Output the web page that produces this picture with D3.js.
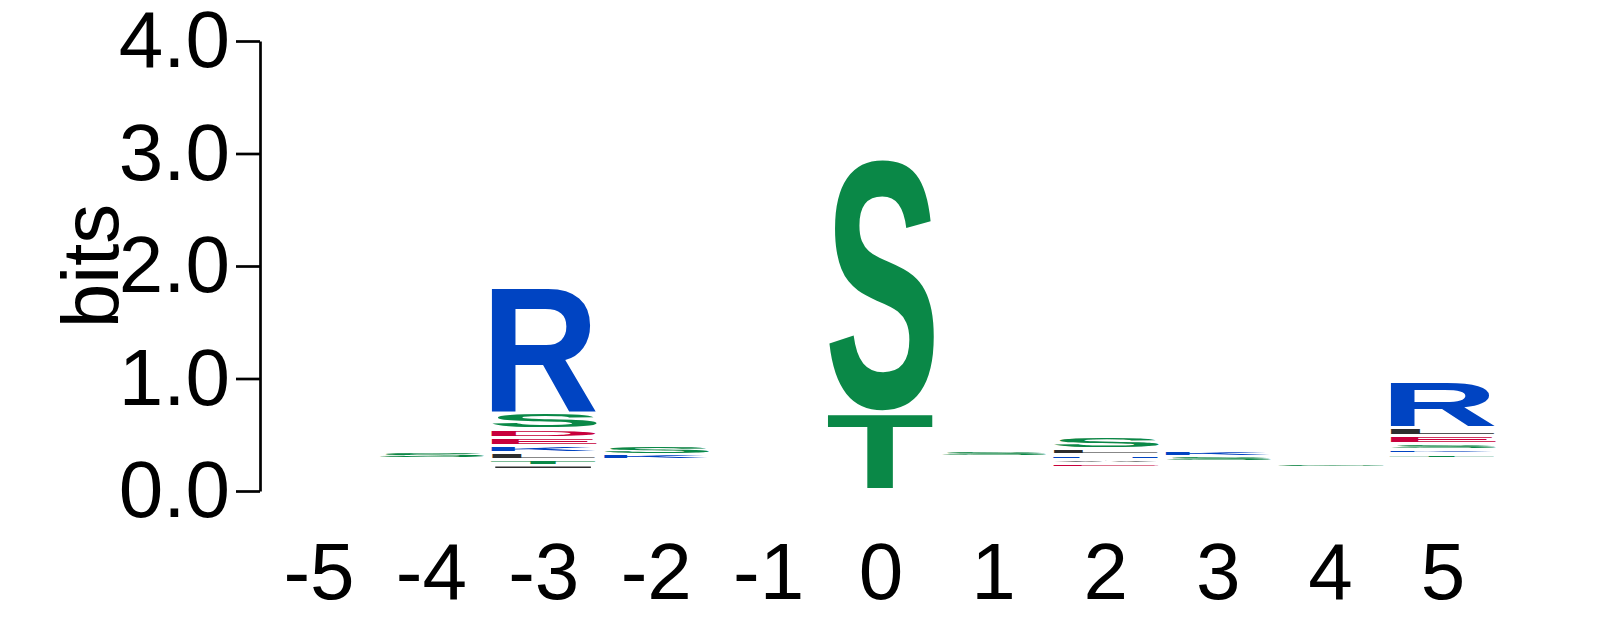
<!DOCTYPE html>
<html>
<head>
<meta charset="utf-8">
<script src="https://cdn.jsdelivr.net/npm/d3@7"></script>
<style>
  html, body { margin: 0; padding: 0; background: #fff; }
  svg text { font-family: "Liberation Sans", Arial, Helvetica, sans-serif; }
</style>
</head>
<body>
<svg id="logo" width="1597" height="625"></svg>
<script>
// sequence positions along the x axis
const positions = [-5, -4, -3, -2, -1, 0, 1, 2, 3, 4, 5];

// visible letters of each stack, top to bottom
const stackLetters = [
    [],
    ["S"],
    ["R", "S", "D", "E", "K", "L", "T", "I", "G"],
    ["S", "K"],
    [],
    ["S", "T"],
    ["S"],
    ["S", "L", "H", "A", "E"],
    ["K", "S"],
    ["G"],
    ["R", "L", "E", "S", "K", "T"]
];

// heights of those letters in bits
const stackBits = [
    [],
    [0.06],
    [1.117, 0.138, 0.076, 0.074, 0.062, 0.055, 0.053, 0.04, 0.031],
    [0.086, 0.044],
    [],
    [2.252, 0.688],
    [0.053],
    [0.106, 0.05, 0.042, 0.038, 0.037],
    [0.043, 0.044],
    [0.04],
    [0.413, 0.07, 0.07, 0.049, 0.042, 0.038]
];

// bits taken by letters too thin to see at the bottom of each stack
const hiddenBits = [0.25, 0.29, 0.16, 0.283, 0.25, 0.016, 0.307, 0.209, 0.265, 0.213, 0.293];

const yTicks = [0, 1, 2, 3, 4];

// chemistry colour scheme
const letterColor = {
    G: "#0a8847", S: "#0a8847", T: "#0a8847", Y: "#0a8847", C: "#0a8847",
    K: "#0044c2", R: "#0044c2", H: "#0044c2",
    D: "#c8003c", E: "#c8003c",
    N: "#8a2be2", Q: "#8a2be2",
    A: "#2d2d2d", V: "#2d2d2d", L: "#2d2d2d", I: "#2d2d2d", P: "#2d2d2d",
    W: "#2d2d2d", F: "#2d2d2d", M: "#2d2d2d"
};

const svg = d3.select("#logo");

const y = d3.scaleLinear().domain([0, 4]).range([491, 41]);
const x = d3.scaleBand().domain(positions).range([262.8, 1499.2]).padding(0);
const letterWidth = x.bandwidth() * 0.945;
const inset = 1.5;

// tight glyph bounds, measured once per letter on a canvas
const glyphFont = "bold 100px 'Liberation Sans', Arial, Helvetica, sans-serif";
const ctx = document.createElement("canvas").getContext("2d");
ctx.font = glyphFont;
const metrics = {};
function glyphBox(ch) {
    if (!metrics[ch]) {
        let m = ctx.measureText(ch);
        metrics[ch] = {
            left: m.actualBoundingBoxLeft,
            right: m.actualBoundingBoxRight,
            asc: m.actualBoundingBoxAscent,
            desc: m.actualBoundingBoxDescent
        };
    }
    return metrics[ch];
}

// y axis
const yAxis = d3.axisLeft(y)
    .tickValues(yTicks)
    .tickFormat(d3.format(".1f"))
    .tickSize(24)
    .tickSizeOuter(0)
    .tickPadding(6);

const gy = svg.append("g")
    .attr("transform", "translate(260,0)")
    .call(yAxis);
gy.select(".domain").attr("stroke", "#000").attr("stroke-width", 2.7);
gy.selectAll(".tick line").attr("stroke", "#000").attr("stroke-width", 2.7);
gy.selectAll(".tick text")
    .attr("fill", "#000")
    .style("font-size", "80px")
    .style("font-family", "'Liberation Sans', Arial, Helvetica, sans-serif");

// y label
svg.append("text")
    .attr("transform", "translate(118," + y(2) + ") rotate(-90)")
    .attr("text-anchor", "middle")
    .style("font-size", "80px")
    .attr("fill", "#000")
    .text("bits");

// x labels
svg.selectAll(".xlabel")
    .data(positions)
    .enter().append("text")
    .attr("class", "xlabel")
    .attr("x", d => x(d) + x.bandwidth() / 2)
    .attr("y", 598.6)
    .attr("text-anchor", "middle")
    .style("font-size", "80px")
    .attr("fill", "#000")
    .text(d => d);

// build letter boxes, stacked from the bottom up
let boxes = [];
positions.forEach((p, i) => {
    let base = hiddenBits[i];
    let ls = stackLetters[i];
    let bs = stackBits[i];
    for (let k = ls.length - 1; k >= 0; k--) {
        boxes.push({ pos: p, letter: ls[k], y0: base, y1: base + bs[k] });
        base += bs[k];
    }
});

const glyphs = svg.append("g");
boxes.forEach(b => {
    let top = y(b.y1) + inset;
    let h = y(b.y0) - y(b.y1) - 2 * inset;
    if (h <= 0) return;
    let g = glyphBox(b.letter);
    let x0 = x(b.pos) + (x.bandwidth() - letterWidth) / 2;
    let sx = letterWidth / (g.left + g.right);
    let sy = h / (g.asc + g.desc);
    glyphs.append("text")
        .attr("transform", "translate(" + x0 + "," + top + ") scale(" + sx + "," + sy + ") translate(" + g.left + "," + g.asc + ")")
        .style("font", glyphFont)
        .attr("fill", letterColor[b.letter])
        .text(b.letter);
});
</script>
</body>
</html>
